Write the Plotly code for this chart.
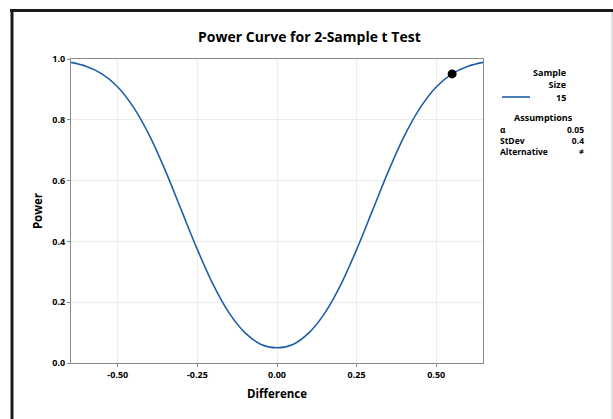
import plotly.graph_objects as go

# ---- data ----
difference = [-0.647, -0.60, -0.55, -0.50, -0.45, -0.40, -0.35, -0.30, -0.25, -0.20,
              -0.15, -0.10, -0.05, 0.00, 0.05, 0.10, 0.15, 0.20, 0.25, 0.30,
              0.35, 0.40, 0.45, 0.50, 0.55, 0.60, 0.647]
power = [0.989, 0.976, 0.951, 0.908, 0.840, 0.747, 0.631, 0.502, 0.373, 0.257,
         0.164, 0.099, 0.061, 0.050, 0.061, 0.099, 0.164, 0.257, 0.373, 0.502,
         0.631, 0.747, 0.840, 0.908, 0.951, 0.976, 0.989]
point_diff = [0.55]
point_power = [0.951]

x_ticks = [-0.50, -0.25, 0.00, 0.25, 0.50]
x_tick_labels = ["-0.50", "-0.25", "0.00", "0.25", "0.50"]
y_ticks = [0.0, 0.2, 0.4, 0.6, 0.8, 1.0]
y_tick_labels = ["0.0", "0.2", "0.4", "0.6", "0.8", "1.0"]

sample_size = "15"
assumption_names = ["α", "StDev", "Alternative"]
assumption_values = ["0.05", "0.4", "≠"]

# ---- layout geometry (pixels) ----
W, H = 613, 419
L, R, T, B = 71, 483, 59, 363
FONT = "Open Sans"
BLUE = "#1f5fa6"


def px(x):
    return (x - L) / (R - L)


def py(y):
    return (B - y) / (B - T)


fig = go.Figure()
fig.add_trace(go.Scatter(x=difference, y=power, mode="lines",
                         line=dict(color=BLUE, width=1.6, shape="spline", smoothing=0.9),
                         hoverinfo="skip", showlegend=False))
fig.add_trace(go.Scatter(x=point_diff, y=point_power, mode="markers",
                         marker=dict(color="black", size=9), showlegend=False))

axis_common = dict(showline=True, linecolor="#8a8a8a", linewidth=1.2, mirror=True,
                   showgrid=True, gridcolor="#ececec", gridwidth=1, zeroline=False,
                   ticks="outside", ticklen=3, tickcolor="#8a8a8a",
                   tickfont=dict(family=FONT, size=9, color="black", weight="bold"))

fig.update_xaxes(range=[-0.647, 0.647], tickvals=x_ticks, ticktext=x_tick_labels,
                 title=dict(text="Difference", font=dict(family=FONT, size=11.5, color="black", weight="bold"),
                            standoff=10),
                 **axis_common)
fig.update_yaxes(range=[0, 1.0], tickvals=y_ticks, ticktext=y_tick_labels,
                 title=dict(text="Power", font=dict(family=FONT, size=11.5, color="black", weight="bold"),
                            standoff=7),
                 **axis_common)

ann = []


def text(x, y, s, size=9, xanchor="center", align="center"):
    ann.append(dict(x=px(x), y=py(y), xref="paper", yref="paper", text=s, showarrow=False,
                    xanchor=xanchor, yanchor="middle", align=align,
                    font=dict(family=FONT, size=size, color="black", weight="bold")))


# title centred over the frame
text(309, 36, "Power Curve for 2-Sample t Test", size=14)
# legend block
text(568, 78, "Sample<br>Size", xanchor="right", align="right")
text(568, 97, sample_size, xanchor="right", align="right")
text(543, 118, "Assumptions")
text(498, 140, "<br>".join(assumption_names), size=8.5, xanchor="left", align="left")
text(586, 140, "<br>".join(assumption_values), size=8.5, xanchor="right", align="right")

shapes = [
    dict(type="line", xref="paper", yref="paper", x0=px(502), x1=px(530), y0=py(97), y1=py(97),
         line=dict(color=BLUE, width=1.6)),
    # outer frame
    dict(type="line", xref="paper", yref="paper", x0=px(10), x1=px(613), y0=py(10.5), y1=py(10.5),
         line=dict(color="#1a1a1a", width=3)),
    dict(type="line", xref="paper", yref="paper", x0=px(12), x1=px(12), y0=py(9), y1=py(419),
         line=dict(color="#1a1a1a", width=3)),
    dict(type="line", xref="paper", yref="paper", x0=px(612), x1=px(612), y0=py(12), y1=py(419),
         line=dict(color="#c0c0c0", width=1)),
]

fig.update_layout(width=W, height=H, margin=dict(l=L, r=W - R, t=T, b=H - B),
                  paper_bgcolor="white", plot_bgcolor="white",
                  annotations=ann, shapes=shapes, showlegend=False)

fig.write_html("out.html", config={"displayModeBar": False},
               post_script="document.body.style.margin='0';document.body.style.padding='0';")
